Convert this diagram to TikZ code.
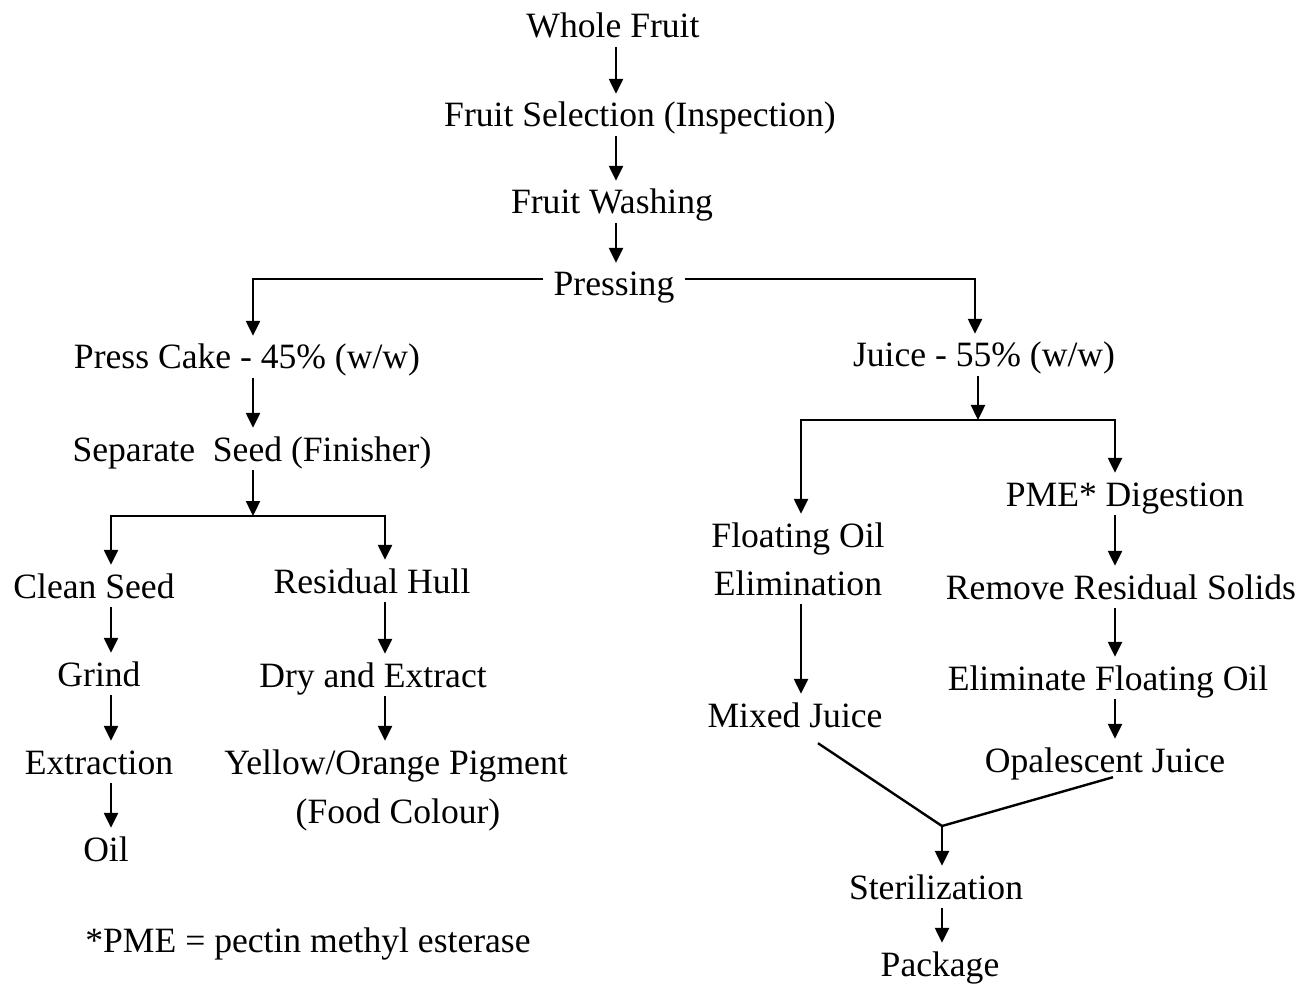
\documentclass[tikz,border=0pt]{standalone}
\usepackage{fontspec}
\setmainfont{Liberation Serif}
\usetikzlibrary{arrows.meta}
\begin{document}
\begin{tikzpicture}[x=1pt,y=-1pt,
 lbl/.style={anchor=base, font=\fontsize{35.6}{40}\selectfont, text height=31pt, text depth=7pt, inner xsep=10pt, inner ysep=2pt},
 arr/.style={line width=2.4pt, -{Triangle[length=15pt,width=14pt]}},
 ln/.style={line width=2.4pt}]
\useasboundingbox (0,0) rectangle (1310,984);
% nodes
\node[lbl] (wf) at (613,38) {Whole Fruit};
\node[lbl] (fs) at (640,127) {Fruit Selection (Inspection)};
\node[lbl] (fw) at (612,214) {Fruit Washing};
\node[lbl] (pr) at (614,296) {Pressing};
\node[lbl] (pc) at (247,369) {Press Cake - 45\% (w/w)};
\node[lbl] (ss) at (252,461) {Separate\ \ Seed (Finisher)};
\node[lbl] (cs) at (94,598) {Clean Seed};
\node[lbl] (rh) at (372,593) {Residual Hull};
\node[lbl] (gr) at (99,686) {Grind};
\node[lbl] (de) at (373,687) {Dry and Extract};
\node[lbl] (ex) at (99,774) {Extraction};
\node[lbl] (yp) at (396,774) {Yellow/Orange Pigment};
\node[lbl] (fc) at (398,823) {(Food Colour)};
\node[lbl] (oil) at (106,861) {Oil};
\node[lbl] (note) at (308,952) {*PME = pectin methyl esterase};
\node[lbl] (ju) at (984,367) {Juice - 55\% (w/w)};
\node[lbl] (pme) at (1125,506) {PME* Digestion};
\node[lbl] (fo1) at (798,547) {Floating Oil};
\node[lbl] (fo2) at (798,595) {Elimination};
\node[lbl] (mj) at (795,727) {Mixed Juice};
\node[lbl] (rr) at (1121,599) {Remove Residual Solids};
\node[lbl] (ef) at (1108,690) {Eliminate Floating Oil};
\node[lbl] (oj) at (1105,772) {Opalescent Juice};
\node[lbl] (st) at (936,899) {Sterilization};
\node[lbl] (pk) at (940,976) {Package};
% column coordinates
\coordinate (xt) at (616,0);
\coordinate (xl) at (253,0);
\coordinate (xr) at (975,0);
\coordinate (xcs) at (111,0);
\coordinate (xrh) at (385,0);
\coordinate (xj) at (978,0);
\coordinate (xfo) at (801,0);
\coordinate (xpm) at (1115,0);
\coordinate (j1) at (253,516);
\coordinate (j2) at (978,420);
\coordinate (m) at (942,826);
% connectors
\draw[arr] (wf.south -| xt) -- (fs.north -| xt);
\draw[arr] (fs.south -| xt) -- (fw.north -| xt);
\draw[arr] (fw.south -| xt) -- (pr.north -| xt);
\draw[arr] ([yshift=5pt]pr.west) -| (pc.north -| xl);
\draw[arr] ([yshift=5pt]pr.east) -| (ju.north -| xr);
\draw[arr] (pc.south -| xl) -- (ss.north -| xl);
\draw[arr] (ss.south -| xl) -- (j1);
\draw[arr] (j1) -| (cs.north -| xcs);
\draw[arr] (j1) -| (rh.north -| xrh);
\draw[arr] (cs.south -| xcs) -- (gr.north -| xcs);
\draw[arr] (gr.south -| xcs) -- (ex.north -| xcs);
\draw[arr] (ex.south -| xcs) -- (oil.north -| xcs);
\draw[arr] (rh.south -| xrh) -- (de.north -| xrh);
\draw[arr] (de.south -| xrh) -- (yp.north -| xrh);
\draw[arr] (ju.south -| xj) -- (j2);
\draw[arr] (j2) -| (fo1.north -| xfo);
\draw[arr] (j2) -| (pme.north -| xpm);
\draw[arr] (fo2.south -| xfo) -- (mj.north -| xfo);
\draw[arr] (pme.south -| xpm) -- (rr.north -| xpm);
\draw[arr] (rr.south -| xpm) -- (ef.north -| xpm);
\draw[arr] (ef.south -| xpm) -- (oj.north -| xpm);
\draw[ln] ([xshift=23pt,yshift=-7pt]mj.south) -- (m);
\draw[ln] ([xshift=8pt,yshift=4pt]oj.south) -- (m);
\draw[arr] (m) -- (st.north -| m);
\draw[arr] (st.south -| m) -- (pk.north -| m);
\end{tikzpicture}
\end{document}
